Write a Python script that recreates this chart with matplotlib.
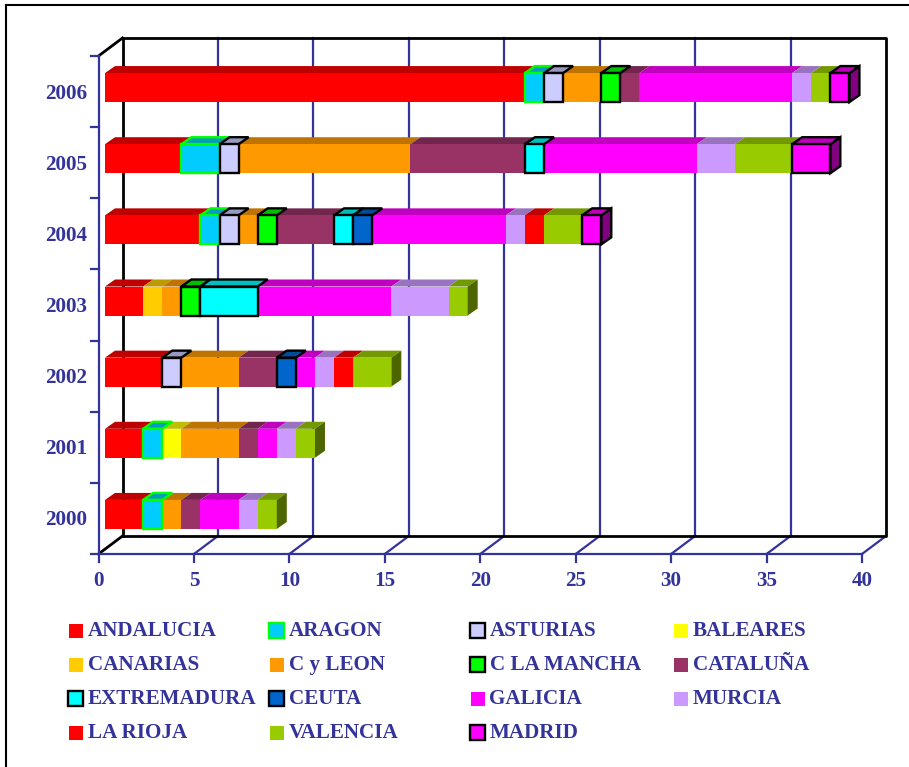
import matplotlib
matplotlib.use('Agg')
import matplotlib.pyplot as plt
from matplotlib.patches import Polygon, Rectangle

plt.rcParams['font.family'] = ['Liberation Serif', 'DejaVu Serif']
plt.rcParams['font.weight'] = 'bold'

years = ['2000', '2001', '2002', '2003', '2004', '2005', '2006']
regions = ['ANDALUCIA', 'ARAGON', 'ASTURIAS', 'BALEARES', 'CANARIAS', 'C y LEON', 'C LA MANCHA',
           'CATALUÑA', 'EXTREMADURA', 'CEUTA', 'GALICIA', 'MURCIA', 'LA RIOJA', 'VALENCIA', 'MADRID']
colors = ['#ff0000', '#00ccff', '#ccccff', '#ffff00', '#ffcc00', '#ff9900', '#00ff00',
          '#993366', '#00ffff', '#0066cc', '#ff00ff', '#cc99ff', '#ff0000', '#99cc00', '#ff00ff']
edges = [None, '#00ff00', 'black', None, None, None, 'black',
         None, 'black', 'black', None, None, None, None, 'black']

# one list per region, values for 2000..2006
andalucia = [2, 2, 3, 2, 5, 4, 22]
aragon = [1, 1, 0, 0, 1, 2, 1]
asturias = [0, 0, 1, 0, 1, 1, 1]
baleares = [0, 1, 0, 0, 0, 0, 0]
canarias = [0, 0, 0, 1, 0, 0, 0]
c_leon = [1, 3, 3, 1, 1, 9, 2]
c_mancha = [0, 0, 0, 1, 1, 0, 1]
cataluna = [1, 1, 2, 0, 3, 6, 1]
extremadura = [0, 0, 0, 3, 1, 1, 0]
ceuta = [0, 0, 1, 0, 1, 0, 0]
galicia = [2, 1, 1, 7, 7, 8, 8]
murcia = [1, 1, 1, 3, 1, 2, 1]
la_rioja = [0, 0, 1, 0, 1, 0, 0]
valencia = [1, 1, 2, 1, 2, 3, 1]
madrid = [0, 0, 0, 0, 1, 2, 1]
series = [andalucia, aragon, asturias, baleares, canarias, c_leon, c_mancha, cataluna,
          extremadura, ceuta, galicia, murcia, la_rioja, valencia, madrid]
xticks = [0, 5, 10, 15, 20, 25, 30, 35, 40]

W, H = 909, 767
BLUE = '#333399'
FS = 15.2


def darker(col, f=0.75):
    r, g, b = matplotlib.colors.to_rgb(col)
    return (r * f, g * f, b * f)


fig = plt.figure(figsize=(W / 100, H / 100), dpi=100)
# front plane of the 3d box, 0..40 / 0..7
ax = fig.add_axes([98.5 / W, 1 - 554 / H, 763.5 / W, 498 / H])
ax.set_xlim(0, 40)
ax.set_ylim(0, 7)
ax.axis('off')

# pixel sizes turned into data units
ux = 763.5 / 40
uy = 498 / 7
back_x, back_y = 24 / ux, 18 / uy
bar_x, bar_y = 10 / ux, 7 / uy
start = 6.5 / ux
lift = 4 / uy
bar_h = 29 / uy

# back wall and floor
for t in xticks[1:-1]:
    ax.plot([t + back_x] * 2, [back_y, 7 + back_y], color=BLUE, lw=1.6, clip_on=False, zorder=1)
for t in xticks[1:]:
    ax.plot([t, t + back_x], [0, back_y], color=BLUE, lw=1.6, clip_on=False, zorder=1)
ax.plot([back_x, back_x, 40 + back_x, 40 + back_x, back_x],
        [back_y, 7 + back_y, 7 + back_y, back_y, back_y], color='black', lw=2, clip_on=False, zorder=1.5)
ax.plot([0, back_x], [0, back_y], color='black', lw=2, clip_on=False, zorder=1.5)
ax.plot([0, back_x], [7, 7 + back_y], color='black', lw=2, clip_on=False, zorder=1.5)

# front axes
ax.plot([0, 40], [0, 0], color=BLUE, lw=1.6, clip_on=False, zorder=2)
ax.plot([0, 0], [0, 7], color=BLUE, lw=1.6, clip_on=False, zorder=2)
for i in range(8):
    ax.plot([-8 / ux, 0], [i, i], color=BLUE, lw=1.6, clip_on=False, zorder=2)
for t in xticks:
    ax.plot([t, t], [0, -8 / uy], color=BLUE, lw=1.6, clip_on=False, zorder=2)
    ax.text(t, -26.5 / uy, str(t), ha='center', va='center', color=BLUE, fontsize=FS)
for i, y in enumerate(years):
    ax.text(-11 / ux, i + 0.5 - 2 / uy, y, ha='right', va='center', color=BLUE, fontsize=FS)

# stacked bars, plain segments under the outlined ones
for i in range(len(years)):
    left = start
    yc = i + 0.5 + lift
    y0 = yc - bar_h / 2
    y1 = yc + bar_h / 2
    last = None
    for j, s in enumerate(series):
        v = s[i]
        if v == 0:
            continue
        z = 5 if edges[j] else 3
        lw = 1.7 if edges[j] else 0
        ec = edges[j] if edges[j] else 'none'
        ax.add_patch(Polygon([(left, y1), (left + bar_x, y1 + bar_y), (left + v + bar_x, y1 + bar_y), (left + v, y1)],
                             fc=darker(colors[j]), ec=ec, lw=lw, zorder=z, clip_on=False))
        ax.barh(yc, v, height=bar_h, left=left, color=colors[j], edgecolor=ec, linewidth=lw, zorder=z + 0.5, clip_on=False)
        left += v
        last = j
    ec = edges[last] if edges[last] else 'none'
    ax.add_patch(Polygon([(left, y0), (left + bar_x, y0 + bar_y), (left + bar_x, y1 + bar_y), (left, y1)],
                         fc=darker(colors[last], 0.5), ec=ec, lw=1.7 if edges[last] else 0, zorder=4.5, clip_on=False))

# legend, 4 columns
col_x = [69, 270, 470.5, 674]
row_y = [631, 665, 699, 733]
lax = fig.add_axes([0, 0, 1, 1])
lax.set_xlim(0, W)
lax.set_ylim(H, 0)
lax.axis('off')
lax.patch.set_alpha(0)
for j, name in enumerate(regions):
    x = col_x[j % 4]
    y = row_y[j // 4]
    if edges[j]:
        lax.add_patch(Rectangle((x - 1, y - 8), 15, 15, fc=colors[j], ec=edges[j], lw=1.7))
    else:
        lax.add_patch(Rectangle((x, y - 7), 14, 14, fc=colors[j], ec='none'))
    lax.text(x + 19, y, name, ha='left', va='center', color=BLUE, fontsize=FS)

# outer frame
lax.plot([6, 6], [767, 5], color='black', lw=1.5)
lax.plot([6, 909], [5, 5], color='black', lw=1.5)

fig.savefig('out.png', dpi=100)
